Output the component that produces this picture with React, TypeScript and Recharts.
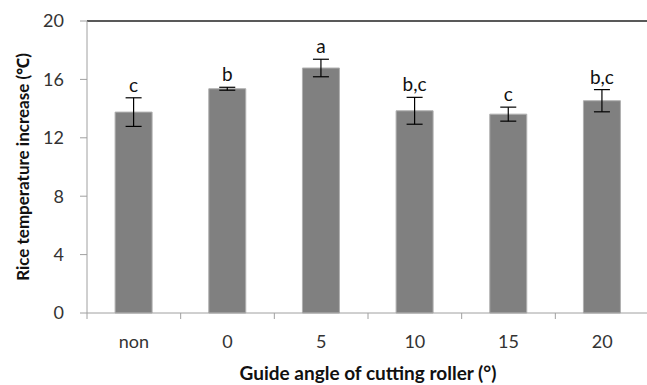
import React from "react";
import {
  BarChart,
  Bar,
  XAxis,
  YAxis,
  ErrorBar,
  LabelList,
  ReferenceLine,
} from "recharts";

const angles = ["non", "0", "5", "10", "15", "20"];
const increase = [13.76, 15.36, 16.78, 13.85, 13.62, 14.54];
const errors = [0.98, 0.1, 0.6, 0.92, 0.48, 0.76];
const groups = ["c", "b", "a", "b,c", "c", "b,c"];
const yTicks = [0, 4, 8, 12, 16, 20];

const data = angles.map((name, i) => ({
  name,
  value: increase[i],
  err: errors[i],
  sig: groups[i],
}));

const font = "Lato, 'Noto Sans', sans-serif";

const AngleTick = (props: any) => {
  const { x, y, payload, index, visibleTicksCount } = props;
  const half = payload && payload.offset ? payload.offset : 46.8;
  const top = y - 8;
  return (
    <g>
      <line x1={x - half} y1={top} x2={x - half} y2={top + 6} stroke="#a0a0a0" />
      {index === visibleTicksCount - 1 && (
        <line x1={x + half} y1={top} x2={x + half} y2={top + 6} stroke="#a0a0a0" />
      )}
      <text
        x={x}
        y={top + 35}
        textAnchor="middle"
        fontSize={18}
        fontFamily={font}
        fill="#333"
      >
        {payload.value}
      </text>
    </g>
  );
};

const SigLabel = (props: any) => {
  const { x, y, width, height, index } = props;
  const d = data[index];
  const perUnit = height / d.value;
  const errTop = y - d.err * perUnit;
  return (
    <text
      x={x + width / 2}
      y={errTop - 6}
      textAnchor="middle"
      fontSize={19}
      fontFamily={font}
      fill="#111"
    >
      {d.sig}
    </text>
  );
};

export default function App() {
  return (
    <div style={{ position: "absolute", left: 0, top: 0, width: 647, height: 385, overflow: "hidden", background: "#fff" }}>
      <BarChart
        width={660}
        height={385}
        data={data}
        margin={{ top: 21, right: 11, left: 0, bottom: 0 }}
        barCategoryGap="30%"
      >
        <XAxis
          dataKey="name"
          height={72}
          stroke="#a0a0a0"
          tickLine={false}
          tick={<AngleTick />}
          interval={0}
          label={{
            value: "Guide angle of cutting roller (°)",
            position: "insideBottom",
            offset: 5,
            fontSize: 19,
            fontWeight: "bold",
            fontFamily: font,
            fill: "#111",
          }}
        />
        <YAxis
          width={87}
          domain={[0, 20]}
          ticks={yTicks}
          stroke="#a0a0a0"
          tickSize={7}
          tickMargin={16}
          tick={{ fontSize: 18, fontFamily: font, fill: "#333" }}
          label={{
            value: "Rice temperature increase (℃)",
            angle: -90,
            position: "insideLeft",
            offset: 23,
            style: { textAnchor: "middle" },
            fontSize: 17,
            fontWeight: "bold",
            fontFamily: font,
            fill: "#111",
          }}
        />
        <ReferenceLine y={20} stroke="#222" strokeWidth={1.5} />
        <Bar
          dataKey="value"
          fill="#808080"
          stroke="#b0b0b0"
          strokeWidth={1}
          isAnimationActive={false}
        >
          <ErrorBar dataKey="err" width={8} stroke="#000" strokeWidth={1.2} />
          <LabelList dataKey="sig" content={<SigLabel />} />
        </Bar>
      </BarChart>
    </div>
  );
}
